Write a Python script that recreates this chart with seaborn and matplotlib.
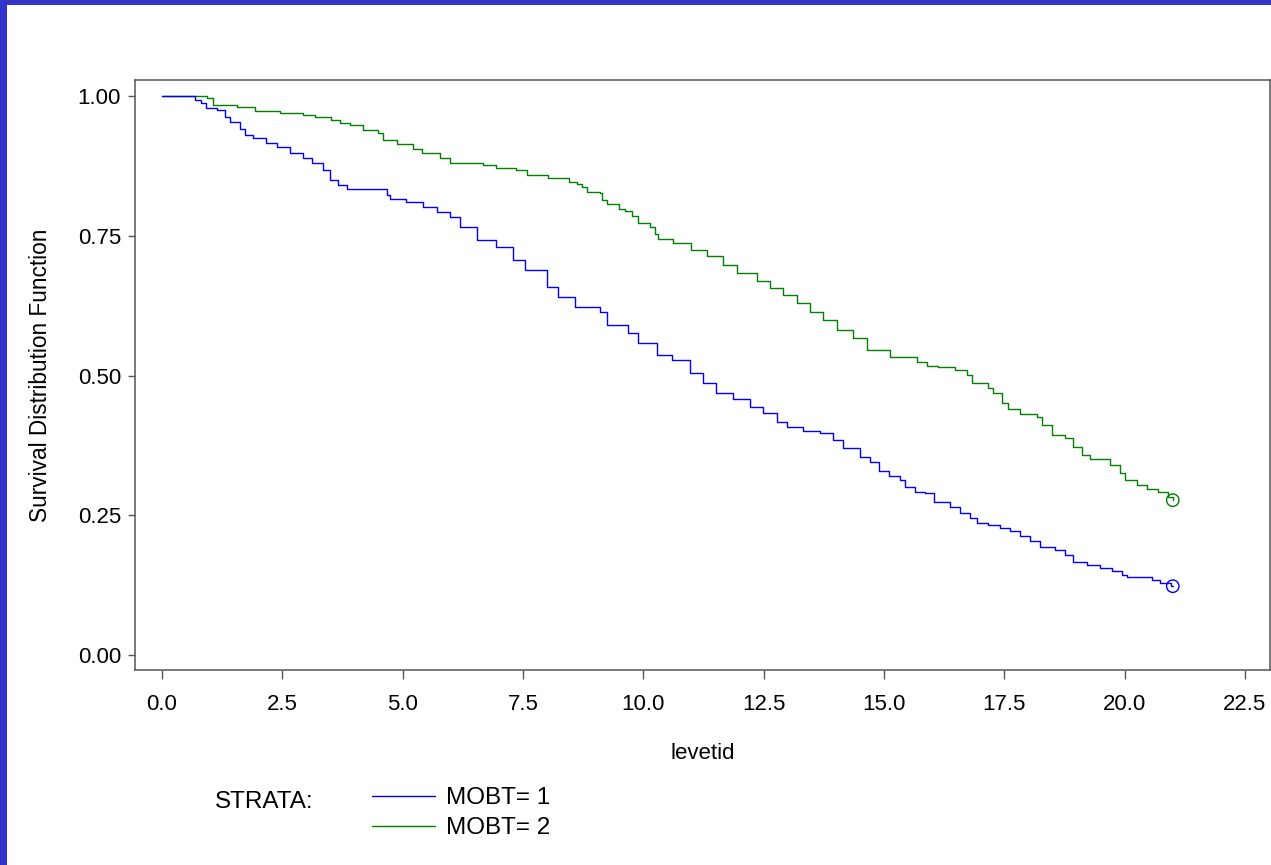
import matplotlib
matplotlib.use("Agg")
import matplotlib.pyplot as plt
import seaborn as sns
import pandas as pd
from matplotlib.patches import Rectangle

# ---- data ----
strata_labels = ["MOBT= 1", "MOBT= 2"]

time_1 = [0.00, 0.69, 0.82, 0.91, 1.14, 1.31, 1.41, 1.62, 1.72, 1.89,
          2.17, 2.38, 2.66, 2.93, 3.11, 3.35, 3.49, 3.66, 3.84, 4.67,
          4.74, 5.08, 5.42, 5.71, 5.98, 6.19, 6.54, 6.95, 7.29, 7.54,
          7.99, 8.23, 8.58, 9.10, 9.24, 9.68, 9.89, 10.28, 10.59, 10.97,
          11.24, 11.52, 11.87, 12.22, 12.49, 12.77, 12.98, 13.32, 13.67, 13.95,
          14.15, 14.50, 14.70, 14.90, 15.10, 15.33, 15.44, 15.65, 15.85, 16.03,
          16.37, 16.58, 16.79, 16.93, 17.17, 17.41, 17.62, 17.83, 18.03, 18.24,
          18.55, 18.76, 18.93, 19.21, 19.49, 19.73, 19.94, 20.04, 20.56, 20.74,
          20.96, 21.00]
surv_1 = [1.000, 0.993, 0.987, 0.978, 0.975, 0.963, 0.954, 0.941, 0.930, 0.925,
          0.917, 0.909, 0.898, 0.889, 0.880, 0.868, 0.850, 0.841, 0.834, 0.823,
          0.816, 0.811, 0.802, 0.793, 0.784, 0.766, 0.742, 0.730, 0.707, 0.689,
          0.659, 0.641, 0.623, 0.614, 0.590, 0.576, 0.558, 0.537, 0.527, 0.504,
          0.487, 0.469, 0.458, 0.444, 0.433, 0.417, 0.408, 0.401, 0.397, 0.385,
          0.370, 0.355, 0.345, 0.330, 0.320, 0.313, 0.301, 0.292, 0.290, 0.274,
          0.265, 0.254, 0.245, 0.236, 0.233, 0.227, 0.221, 0.212, 0.203, 0.194,
          0.188, 0.179, 0.167, 0.161, 0.156, 0.151, 0.143, 0.140, 0.134, 0.129,
          0.123, 0.123]

time_2 = [0.00, 0.93, 1.06, 1.55, 1.93, 2.45, 2.93, 3.18, 3.52, 3.70,
          3.91, 4.18, 4.49, 4.60, 4.88, 5.22, 5.40, 5.78, 5.98, 6.67,
          6.95, 7.36, 7.58, 8.02, 8.46, 8.62, 8.72, 8.83, 9.10, 9.14,
          9.24, 9.50, 9.62, 9.76, 9.88, 10.14, 10.24, 10.31, 10.62, 11.00,
          11.32, 11.66, 11.94, 12.36, 12.63, 12.91, 13.19, 13.46, 13.74, 14.02,
          14.36, 14.64, 15.13, 15.68, 15.89, 16.12, 16.48, 16.72, 16.82, 17.17,
          17.27, 17.45, 17.58, 17.83, 18.17, 18.28, 18.49, 18.76, 18.93, 19.11,
          19.28, 19.70, 19.90, 20.01, 20.25, 20.46, 20.69, 20.90, 21.00]
surv_2 = [1.000, 0.996, 0.984, 0.980, 0.974, 0.970, 0.966, 0.962, 0.957, 0.952,
          0.948, 0.939, 0.934, 0.921, 0.914, 0.905, 0.899, 0.889, 0.881, 0.876,
          0.872, 0.868, 0.859, 0.854, 0.847, 0.842, 0.838, 0.829, 0.826, 0.815,
          0.807, 0.799, 0.794, 0.785, 0.773, 0.765, 0.754, 0.745, 0.737, 0.724,
          0.714, 0.698, 0.683, 0.670, 0.656, 0.644, 0.630, 0.614, 0.599, 0.581,
          0.567, 0.546, 0.534, 0.524, 0.518, 0.516, 0.510, 0.501, 0.486, 0.477,
          0.468, 0.450, 0.441, 0.432, 0.426, 0.411, 0.394, 0.388, 0.373, 0.358,
          0.351, 0.340, 0.326, 0.313, 0.304, 0.297, 0.292, 0.283, 0.277]

censor_time = [21.0, 21.0]
censor_surv = [0.123, 0.277]

x_ticks = [0.0, 2.5, 5.0, 7.5, 10.0, 12.5, 15.0, 17.5, 20.0, 22.5]
y_ticks = [0.00, 0.25, 0.50, 0.75, 1.00]

colors = {"MOBT= 1": "#0000FF", "MOBT= 2": "#008000"}

# ---- build table ----
df = pd.concat([
    pd.DataFrame({"levetid": time_1, "surv": surv_1, "strata": strata_labels[0]}),
    pd.DataFrame({"levetid": time_2, "surv": surv_2, "strata": strata_labels[1]}),
], ignore_index=True)
cens = pd.DataFrame({"levetid": censor_time, "surv": censor_surv, "strata": strata_labels})

sns.set_style("white")
plt.rcParams["font.family"] = ["Liberation Sans", "DejaVu Sans"]
plt.rcParams["text.color"] = "black"

W, H = 1271, 865
fig = plt.figure(figsize=(W / 100, H / 100), dpi=100)
fig.patch.set_facecolor("white")

def fx(px):
    return px / W

def fy(py):
    return 1 - py / H

ax = fig.add_axes([fx(135), fy(670), fx(1270) - fx(135), fy(80) - fy(670)])

sns.lineplot(data=df, x="levetid", y="surv", hue="strata", hue_order=strata_labels,
             palette=colors, drawstyle="steps-post", estimator=None, sort=False,
             linewidth=1.0, legend=False, ax=ax)
# blue on top like the reference
if len(ax.lines) >= 2:
    ax.lines[0].set_zorder(3)
    ax.lines[1].set_zorder(2)

sns.scatterplot(data=cens, x="levetid", y="surv", hue="strata", hue_order=strata_labels,
                palette=colors, marker="o", s=80, linewidth=1.0,
                legend=False, ax=ax)
if ax.collections:
    coll = ax.collections[0]
    fc = coll.get_facecolors()
    coll.set_edgecolors(fc)
    coll.set_facecolors("none")

ax.set_xlim(-0.56, 23.02)
ax.set_ylim(-0.027, 1.029)
ax.set_xticks(x_ticks)
ax.set_xticklabels([f"{v:.1f}" for v in x_ticks])
ax.set_yticks(y_ticks)
ax.set_yticklabels([f"{v:.2f}" for v in y_ticks])

spine_c = "#555555"
for s in ax.spines.values():
    s.set_color(spine_c)
    s.set_linewidth(1.1)
    s.set_visible(True)

ax.tick_params(axis="x", direction="out", length=6.5, width=1.0, color=spine_c,
               labelsize=16, pad=10.5, labelcolor="black", bottom=True)
ax.tick_params(axis="y", direction="out", length=5, width=1.0, color=spine_c,
               labelsize=16, pad=5, labelcolor="black", left=True)

ax.set_xlabel("levetid", fontsize=16, color="black")
ax.xaxis.set_label_coords(0.5, -0.124)
ax.set_ylabel("Survival Distribution Function", fontsize=16.3, color="black")
ax.yaxis.set_label_coords(-0.073, 0.5)

# legend
handles = [plt.Line2D([], [], color=colors[k], linewidth=1.0) for k in strata_labels]
leg = fig.legend(handles, strata_labels, loc="upper left",
                 bbox_to_anchor=(fx(372), fy(787)), bbox_transform=fig.transFigure,
                 frameon=False, fontsize=17.5, handlelength=2.6, handletextpad=0.45,
                 labelspacing=0.33, borderpad=0, borderaxespad=0)
for t in leg.get_texts():
    t.set_color("black")
fig.text(fx(215), fy(808), "STRATA:", fontsize=17.5, va="baseline", ha="left", color="black")

# blue border bands
band = "#3333CC"
fig.patches.append(Rectangle((0, 0), fx(7), 1, transform=fig.transFigure,
                             facecolor=band, edgecolor="none", zorder=10))
fig.patches.append(Rectangle((0, fy(5)), 1, 1 - fy(5), transform=fig.transFigure,
                             facecolor=band, edgecolor="none", zorder=10))

fig.savefig("out.png", dpi=100)
